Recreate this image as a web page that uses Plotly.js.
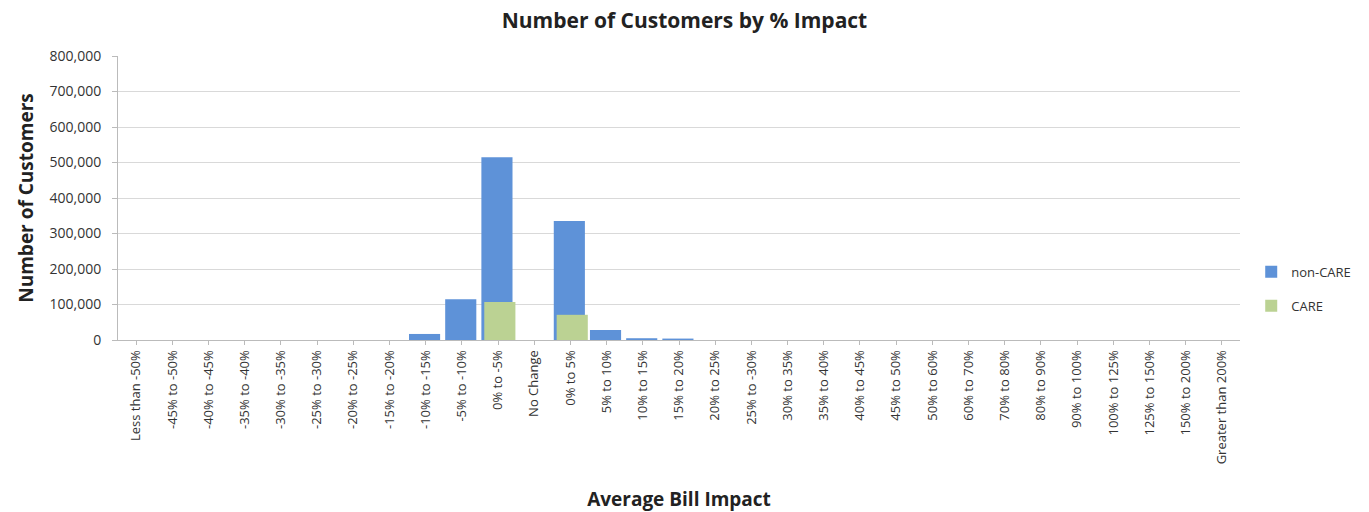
<!DOCTYPE html>
<html>
<head>
<meta charset="utf-8">
<script src="https://cdn.plot.ly/plotly-3.0.1.min.js"></script>
<style>html,body{margin:0;padding:0;background:#fff;}#chart{width:1369px;height:512px;}</style>
</head>
<body>
<div id="chart"></div>
<script>
const categories = ["Less than -50%","-45% to -50%","-40% to -45%","-35% to -40%","-30% to -35%","-25% to -30%","-20% to -25%","-15% to -20%","-10% to -15%","-5% to -10%","0% to -5%","No Change","0% to 5%","5% to 10%","10% to 15%","15% to 20%","20% to 25%","25% to -30%","30% to 35%","35% to 40%","40% to 45%","45% to 50%","50% to 60%","60% to 70%","70% to 80%","80% to 90%","90% to 100%","100% to 125%","125% to 150%","150% to 200%","Greater than 200%"];
const nonCare = [0,0,0,0,0,0,0,0,17000,115000,515000,0,335000,28000,5000,4000,0,0,0,0,0,0,0,0,0,0,0,0,0,0,0];
const care = [0,0,0,0,0,0,0,0,0,0,107000,0,71000,0,0,0,0,0,0,0,0,0,0,0,0,0,0,0,0,0,0];
const seriesNames = ["non-CARE","CARE"];

const font = "Open Sans, Noto Sans, Liberation Sans, sans-serif";
const traces = [
  {type:'bar', name:seriesNames[0], x:categories, y:nonCare, width:0.86, offset:-0.46,
   marker:{color:'#5e92d8', line:{width:0}}, legendgroup:'a'},
  {type:'bar', name:seriesNames[1], x:categories, y:care, width:0.86, offset:-0.38,
   marker:{color:'#bbd293', line:{width:0}}, legendgroup:'b'}
];
const layout = {
  width:1369, height:512,
  margin:{l:118, r:129, t:56, b:172},
  paper_bgcolor:'#fff', plot_bgcolor:'#fff',
  barmode:'overlay',
  title:{text:'<b>Number of Customers by % Impact</b>', x:0.5, xanchor:'center', y:0.96, yanchor:'middle', font:{family:font, size:21, color:'#222'}},
  xaxis:{type:'category', tickangle:-90, tickfont:{family:font, size:13, color:'#333'},
    showline:true, linecolor:'#bbb', ticks:'outside', ticklen:4, tickcolor:'#bbb',
    showgrid:false, automargin:false,
    title:{text:'<b>Average Bill Impact</b>', font:{family:font, size:19, color:'#222'}, standoff:40}},
  yaxis:{range:[0,800000], dtick:100000, tickformat:',d', tickfont:{family:font, size:14, color:'#333'},
    showline:true, linecolor:'#bbb', ticks:'outside', ticklen:5, tickcolor:'#bbb', ticklabelstandoff:8,
    gridcolor:'#d9d9d9', zeroline:false, automargin:false,
    title:{text:'<b>Number of Customers</b>', font:{family:font, size:19, color:'#222'}, standoff:10}},
  legend:{x:1.01, xanchor:'left', y:0.18, yanchor:'middle', font:{family:font, size:13, color:'#333'},
    tracegroupgap:14, traceorder:'grouped', bgcolor:'rgba(0,0,0,0)', itemwidth:30},
  showlegend:true
};
Plotly.newPlot('chart', traces, layout, {displayModeBar:false, staticPlot:true});
</script>
</body>
</html>
